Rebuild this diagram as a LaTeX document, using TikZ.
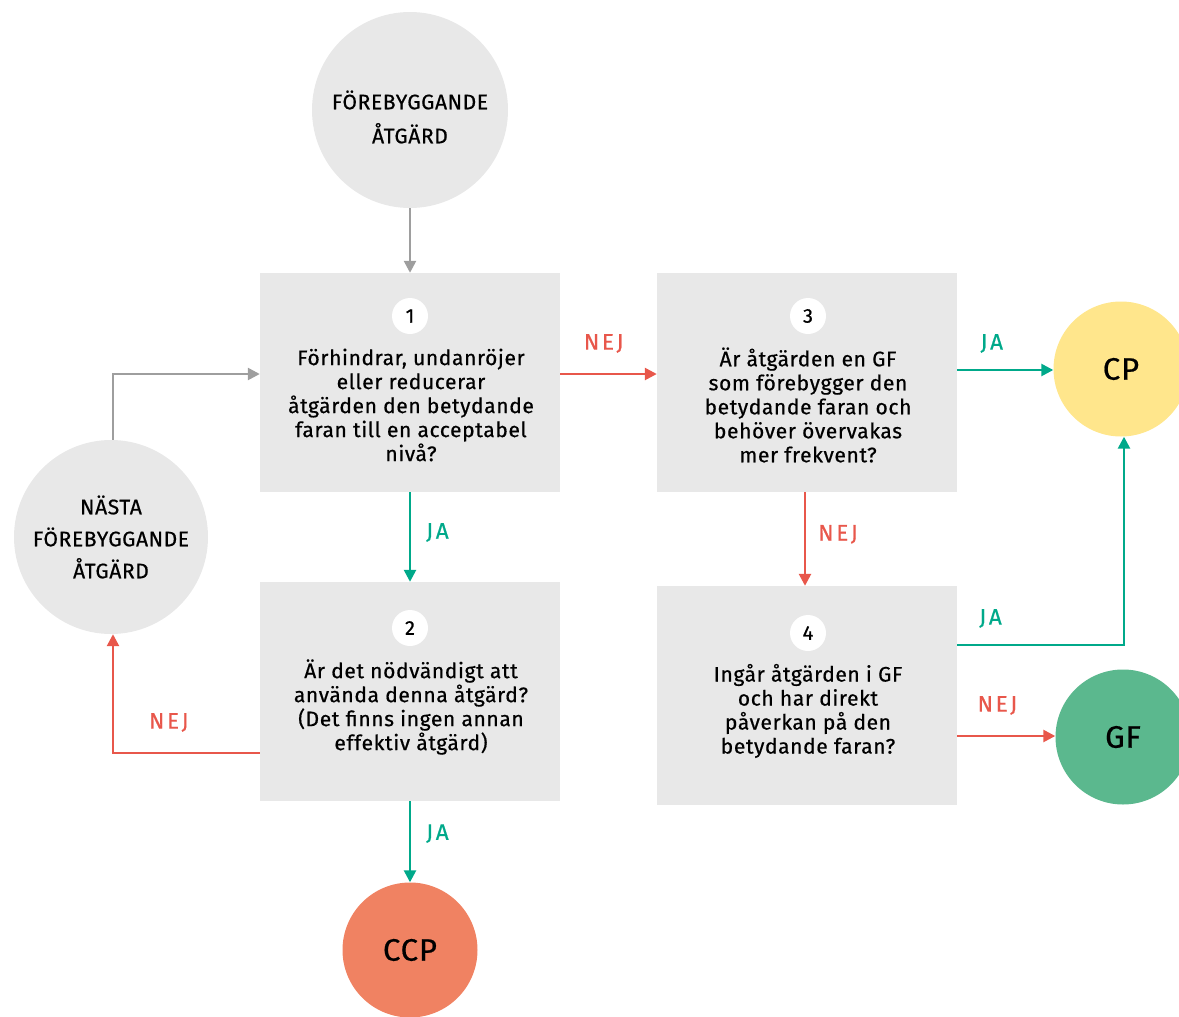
\documentclass[tikz,border=0pt]{standalone}
\usepackage{fontspec}
\setmainfont{Fira Sans}[LetterSpace=3, FakeBold=0.6]
\usetikzlibrary{arrows.meta,positioning}
\definecolor{boxgray}{HTML}{E8E8E8}
\definecolor{linegray}{HTML}{9E9E9E}
\definecolor{jagreen}{HTML}{00A98A}
\definecolor{nejred}{HTML}{E8574B}
\definecolor{cpyellow}{HTML}{FFE68C}
\definecolor{gfgreen}{HTML}{5BB88E}
\definecolor{ccporange}{HTML}{F08262}
\tikzset{
  qbox/.style={fill=boxgray, draw=none, minimum width=300pt, minimum height=219pt, inner sep=0pt},
  badge/.style={circle, fill=white, minimum size=36pt, inner sep=0pt, font=\fontsize{20}{22}\selectfont},
  qtext/.style={align=center, font=\fontsize{21}{24}\selectfont, inner sep=0pt},
  bigcirc/.style={circle, fill=boxgray, minimum size=196pt, inner sep=0pt, align=center, font=\fontsize{21}{33}\selectfont},
  endcirc/.style={circle, minimum size=135pt, inner sep=0pt, font=\fontsize{31}{34}\selectfont},
  conn/.style={line width=2.5pt, -{Triangle[length=12pt,width=12pt]}},
  gconn/.style={conn, draw=linegray},
  jconn/.style={conn, draw=jagreen},
  nconn/.style={conn, draw=nejred},
  jlab/.style={text=jagreen, font=\addfontfeature{LetterSpace=12}\fontsize{22.5}{24}\selectfont, inner sep=0pt},
  nlab/.style={text=nejred, font=\addfontfeature{LetterSpace=12}\fontsize{22.5}{24}\selectfont, inner sep=0pt},
}
\begin{document}
\begin{tikzpicture}[x=1pt,y=-1pt]
\useasboundingbox (0,0) rectangle (1179,1017);
\clip (0,0) rectangle (1179,1017);
% circles
\node[bigcirc] (top) at (410,110) {};
\node[qtext, font=\fontsize{21}{34}\selectfont] (topt) at (410,117) {FÖREBYGGANDE\\ÅTGÄRD};
\node[bigcirc, minimum size=194pt, font=\fontsize{21}{32}\selectfont] (next) at (111,537) {NÄSTA\\FÖREBYGGANDE\\ÅTGÄRD};
\node[endcirc, fill=cpyellow] (cp) at (1121,369) {CP};
\node[endcirc, fill=gfgreen] (gf) at (1123,737) {GF};
\node[endcirc, fill=ccporange] (ccp) at (410,950) {CCP};
% boxes
\node[qbox] (b1) at (410,382.5) {};
\node[qbox] (b2) at (410,691.5) {};
\node[qbox] (b3) at (807,382.5) {};
\node[qbox] (b4) at (807,695.5) {};
\node[badge] (n1) at (410,316) {1};
\node[badge] (n2) at (410,628) {2};
\node[badge] (n3) at (808,316) {3};
\node[badge] (n4) at (808,633) {4};
\node[qtext] (t1) at (411,405) {Förhindrar, undanröjer\\eller reducerar\\åtgärden den betydande\\faran till en acceptabel\\nivå?};
\node[qtext] (t2) at (411,707) {Är det nödvändigt att\\använda denna åtgärd?\\(Det finns ingen annan\\effektiv åtgärd)};
\node[qtext] (t3) at (808,405) {Är åtgärden en GF\\som förebygger den\\betydande faran och\\behöver övervakas\\mer frekvent?};
\node[qtext] (t4) at (808,711) {Ingår åtgärden i GF\\och har direkt\\påverkan på den\\betydande faran?};
% connectors
\coordinate (c1) at (113,374);
\coordinate (c2) at (113,753);
\coordinate (c3) at (1124,645);
\coordinate (c4) at (805,370);
\coordinate (c5) at (805,736);
\draw[gconn] (top.south) -- (b1.north);
\draw[gconn] (next.north -| c1) -- (c1) -- (b1.west |- c1);
\draw[nconn] (b1.east |- c1) -- node[nlab, above=20pt, pos=0.45] (l1) {NEJ} (b3.west |- c1);
\draw[jconn] (b1.south) -- node[jlab, right=15pt, pos=0.45] (l2) {JA} (b2.north);
\draw[nconn] (b2.west |- c2) -- node[nlab, above=20pt, pos=0.62] (l3) {NEJ} (c2) -- (next.south -| c2);
\draw[jconn] (b2.south) -- node[jlab, right=15pt, pos=0.4] (l4) {JA} (ccp.north);
\draw[jconn] (b3.east |- c4) -- node[jlab, above=16pt, pos=0.36] (l5) {JA} (cp.west |- c4);
\draw[nconn] (b3.south -| c4) -- node[nlab, right=12pt, pos=0.45] (l6) {NEJ} (b4.north -| c4);
\draw[jconn] (b4.east |- c3) -- node[jlab, above=16pt, pos=0.2] (l7) {JA} (c3) -- (cp.south -| c3);
\draw[nconn] (b4.east |- c5) -- node[nlab, above=20pt, pos=0.41] (l8) {NEJ} (gf.west |- c5);
\end{tikzpicture}
\end{document}
